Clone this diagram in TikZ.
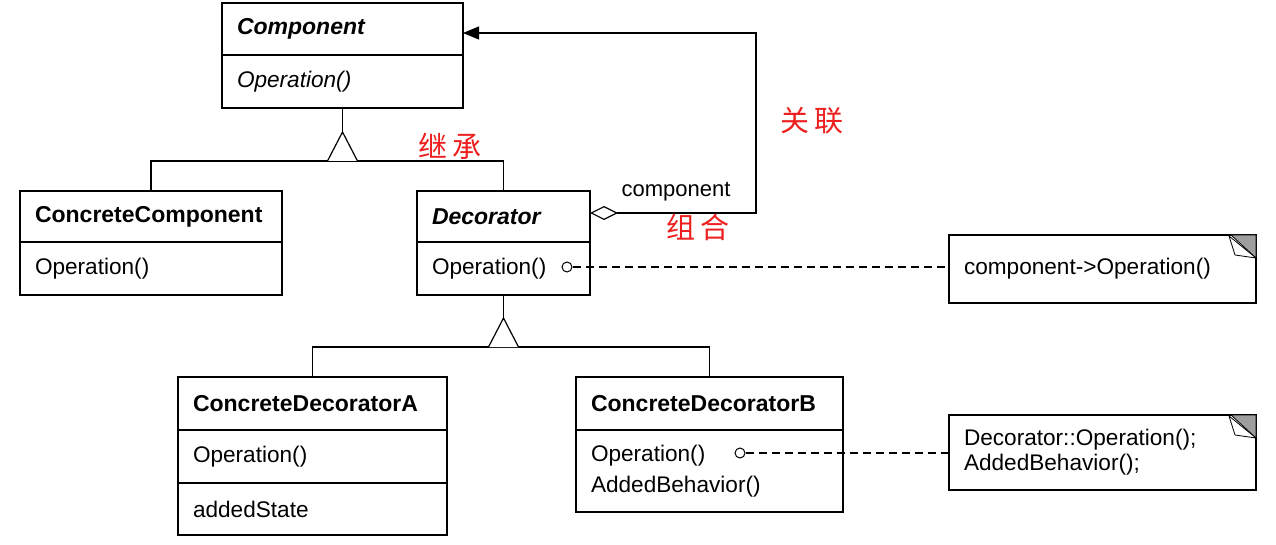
\documentclass[tikz,border=0pt]{standalone}
\usepackage{fontspec}
\setmainfont{Liberation Sans}
\newfontfamily\cjk{Noto Sans CJK SC}
\usetikzlibrary{positioning,arrows.meta,calc}
\definecolor{foldgray}{gray}{0.62}
\definecolor{lblred}{rgb}{0.93,0.12,0.12}

\begin{document}
\begin{tikzpicture}[x=1pt, y=-1pt, line width=1.2pt,
	part/.style={rectangle, draw, anchor=north west, inner xsep=15pt, inner ysep=0pt,
	              outer sep=0pt, align=left, font=\fontsize{22.6}{31}\selectfont},
	head/.style={part, font=\fontsize{23}{28}\selectfont\bfseries},
	notebox/.style={part, font=\fontsize{22.6}{25}\selectfont, text width=277pt},
	lolly/.style={circle, draw, fill=white, inner sep=0pt, minimum size=10pt, line width=1pt},
	zh/.style={font=\cjk\fontsize{29}{32}\selectfont, text=lblred, inner sep=0pt},]
	 \useasboundingbox (0,0) rectangle (1276,545);

	 \node[head, text width=211pt, minimum height=52pt] (comp) at (222,3) {\itshape Component};
	 \node[part, below=0pt of comp, text width=211pt, minimum height=53pt] (compop) {\itshape Operation()};

	 \node[head, text width=232pt, minimum height=51pt] (cc) at (20,191) {ConcreteComponent};
	 \node[part, below=0pt of cc, text width=232pt, minimum height=53pt] (ccop) {Operation()};

	 \node[head, text width=143pt, minimum height=51pt] (dec) at (417,191) {\itshape Decorator};
	 \node[part, below=0pt of dec, text width=143pt, minimum height=53pt] (decop) {Operation()};

	 \node[head, text width=239pt, minimum height=53pt] (cda) at (178,377) {ConcreteDecoratorA};
	 \node[part, below=0pt of cda, text width=239pt, minimum height=53pt] (cdaop) {Operation()};
	 \node[part, below=0pt of cdaop, text width=239pt, minimum height=52pt] (cdastate) {addedState};

	 \node[head, text width=237pt, minimum height=53pt] (cdb) at (576,377) {ConcreteDecoratorB};
	 \node[part, below=0pt of cdb, text width=237pt, minimum height=82pt] (cdbop) {Operation()\\AddedBehavior()};

	 \node[notebox, minimum height=68pt] (nfwd) at (949,235) {component->Operation()};
	 \node[notebox, minimum height=75pt] (nbeh) at (949,415) {Decorator::Operation();\\AddedBehavior();};

	 % generalisation
	 \coordinate (gen1) at (compop.south |- 0,161);
	 \coordinate (gen2) at (decop.south |- 0,347);
	 \draw (cc.north) -- (cc.north |- gen1) -- (dec.north |- gen1) -- (dec.north);
	 \draw (compop.south) -- ($(gen1)+(0,-29)$);
	 \draw[fill=white] ($(gen1)+(-15,0)$) -- ($(gen1)+(0,-29)$) -- ($(gen1)+(15,0)$);
	 \draw (cda.north) -- (cda.north |- gen2) -- (cdb.north |- gen2) -- (cdb.north);
	 \draw (decop.south) -- ($(gen2)+(0,-29)$);
	 \draw[fill=white] ($(gen2)+(-15,0)$) -- ($(gen2)+(0,-29)$) -- ($(gen2)+(15,0)$);

	 % aggregation
	 \coordinate (turn) at (756,33);
	 \draw[{Diamond[open, length=28pt, width=14pt]}-{Triangle[length=16pt, width=13pt]}]
	      ([yshift=3.5pt]dec.east) -| (turn) -- ([yshift=-4pt]comp.east);
	 \node[font=\fontsize{22}{25}\selectfont, inner sep=0pt] (role) at (676,192) {component};

	 % notes
	 \node[lolly] (decdot) at (567,267) {};
	 \node[lolly] (cdbdot) at (740,453) {};
	 \draw[dashed, dash pattern=on 8pt off 5pt] (decdot) -- (decdot -| nfwd.west);
	 \draw[dashed, dash pattern=on 8pt off 5pt] (cdbdot) -- (cdbdot -| nbeh.west);
	 \foreach \n in {nfwd, nbeh} {
	   \filldraw[fill=foldgray, line width=0.8pt] (\n.north east) -- ++(-25,0) -- ++(25,23) -- cycle;
	   \filldraw[fill=white, line width=0.8pt] ($(\n.north east)+(-27,1)$) -- ($(\n.north east)+(0,23)$) -- ($(\n.north east)+(-21,20)$) -- cycle;
	 }

	 \node[zh] (lblinh) at (450,146) {继\hspace{5pt}承};
	 \node[zh] (lblassoc) at (812,121) {关\hspace{5pt}联};
	 \node[zh] (lblcomb) at (698,227) {组\hspace{5pt}合};
\end{tikzpicture}
\end{document}
